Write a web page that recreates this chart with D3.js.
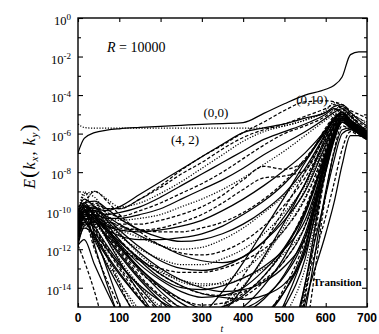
<!DOCTYPE html>
<html>
<head>
<meta charset="utf-8">
<script src="https://cdn.jsdelivr.net/npm/d3@7"></script>
<style>
  body { margin: 0; background: #fff; }
  text { fill: #000; }
</style>
</head>
<body>
<svg id="chart"></svg>
<script>
// sample times shared by every curve
const times = [0, 15, 40, 70, 100, 150, 200, 250, 300, 350, 400, 450, 500, 550, 600, 620, 640, 660, 680, 700];

// log10 E(kx,ky)
const mode00 = [-7.0,-6.25,-5.95,-5.82,-5.75,-5.68,-5.62,-5.57,-5.52,-5.48,-5.43,-4.95,-4.45,-4.0,-3.7,-3.5,-3.05,-1.9,-1.76,-1.76];
const mode42 = [-5.5,-5.68,-5.72,-5.72,-5.72,-5.72,-5.72,-5.72,-5.72,-5.72,-5.72,-5.72,-5.6,-5.3,-4.9,-4.75,-4.6,-4.9,-5.2,-5.4];
const mode010 = [-10.6,-10.0,-9.7,-9.9,-9.9,-9.4,-8.7,-7.9,-7.2,-6.6,-5.95,-5.4,-4.8,-4.35,-4.3,-4.35,-4.5,-4.8,-5.0,-5.2];

// curves that climb straight towards the transition
const risingLines = [
  [-10.4,-9.8,-9.9,-10.0,-9.8,-9.15,-8.5,-7.85,-7.2,-6.55,-5.95,-5.7,-5.5,-5.2,-4.9,-4.6,-4.5,-4.9,-5.3,-5.6],
  [-10.6,-10.0,-9.6,-9.9,-9.9,-9.4,-8.8,-8.1,-7.5,-6.8,-6.2,-5.8,-5.5,-5.1,-4.7,-4.5,-4.7,-5.1,-5.4,-5.7],
  [-10.2,-9.2,-9.0,-9.4,-9.8,-9.6,-9.1,-8.5,-7.8,-7.1,-6.4,-5.9,-5.6,-5.3,-4.8,-4.4,-4.6,-5.0,-5.2,-5.5],
  [-10.8,-10.1,-10.0,-10.2,-10.1,-9.8,-9.3,-8.7,-8.1,-7.5,-6.9,-6.3,-5.9,-5.5,-5.0,-4.7,-4.9,-5.3,-5.6,-5.9],
  [-11.0,-10.3,-9.8,-10.1,-10.3,-10.0,-9.6,-9.1,-8.6,-8.0,-7.3,-6.6,-6.0,-5.6,-5.1,-4.8,-4.6,-5.0,-5.5,-5.8],
  [-10.9,-10.2,-10.2,-10.4,-10.4,-10.2,-9.9,-9.4,-8.9,-8.4,-7.8,-7.1,-6.5,-5.9,-5.2,-4.9,-4.7,-5.1,-5.5,-5.9],
  [-11.2,-10.4,-10.1,-10.3,-10.5,-10.4,-10.2,-9.8,-9.4,-8.9,-8.3,-7.6,-6.9,-6.1,-5.3,-5.0,-4.8,-5.2,-5.6,-5.8],
  [-11.0,-10.3,-10.4,-10.6,-10.7,-10.7,-10.5,-10.2,-9.8,-9.2,-8.4,-7.7,-7.85,-7.4,-5.7,-5.1,-4.9,-5.3,-5.7,-6.0],
  [-11.3,-10.5,-10.3,-10.7,-10.9,-11.0,-10.9,-10.6,-10.2,-9.6,-8.9,-8.3,-8.2,-7.9,-6.0,-5.2,-5.0,-5.4,-5.8,-6.0],
  [-11.1,-10.4,-10.5,-10.8,-11.0,-11.1,-11.0,-10.8,-10.5,-10.0,-9.4,-8.7,-7.9,-7.0,-5.8,-5.2,-4.9,-5.3,-5.7,-6.1],
  [-10.7,-10.0,-10.1,-10.5,-10.8,-11.0,-11.1,-11.1,-10.9,-10.6,-10.1,-9.4,-8.5,-7.3,-5.9,-5.3,-5.0,-5.4,-5.8,-6.0],
  [-11.4,-10.6,-10.6,-11.0,-11.3,-11.5,-11.5,-11.4,-11.2,-10.8,-10.2,-9.5,-8.6,-7.4,-5.8,-5.2,-4.9,-5.3,-5.7,-6.0]
];
const risingStyles = 'sdosdsoddsds';

// curves that sag to a minimum first
const dippingLines = [
  [-10.2,-9.6,-9.5,-9.9,-10.4,-11.0,-11.4,-11.6,-11.5,-11.2,-10.7,-10.0,-9.1,-7.8,-6.0,-5.3,-4.9,-5.3,-5.7,-6.0],
  [-10.4,-9.7,-9.0,-9.5,-10.2,-11.1,-11.8,-12.2,-12.3,-12.1,-11.6,-10.8,-9.7,-8.3,-6.3,-5.5,-5.0,-5.4,-5.8,-6.1],
  [-10.6,-10.0,-9.8,-10.4,-11.0,-11.9,-12.6,-13.0,-13.1,-12.9,-12.4,-11.6,-10.5,-9.0,-6.6,-5.6,-5.1,-5.5,-5.8,-6.0],
  [-10.8,-9.1,-9.3,-10.2,-11.1,-12.3,-13.1,-13.7,-13.9,-13.7,-13.1,-12.2,-11.0,-9.3,-6.8,-5.7,-5.2,-5.6,-5.9,-6.1],
  [-11.0,-10.3,-10.2,-10.9,-11.7,-12.8,-13.6,-14.2,-14.5,-14.4,-14.0,-13.1,-11.9,-10.0,-7.1,-5.9,-5.3,-5.6,-5.9,-6.2],
  [-11.3,-10.5,-10.4,-11.2,-12.0,-13.2,-14.0,-14.6,-14.9,-14.8,-14.3,-13.4,-12.0,-9.9,-6.9,-5.8,-5.2,-5.5,-5.8,-6.0],
  [-10.7,-10.0,-10.0,-10.3,-10.7,-11.3,-11.8,-12.3,-12.6,-12.7,-12.4,-11.6,-10.3,-8.6,-6.2,-5.4,-4.9,-5.3,-5.7,-5.9],
  [-11.5,-10.6,-10.5,-10.8,-11.0,-11.4,-11.8,-12.0,-11.9,-11.5,-10.9,-10.1,-9.2,-8.0,-6.1,-5.4,-5.0,-5.3,-5.6,-5.9],
  [-11.8,-10.8,-10.6,-11.4,-12.2,-13.5,-14.5,-15.3,-15.7,-15.6,-15.0,-13.9,-12.4,-10.2,-7.2,-6.0,-5.3,-5.6,-5.9,-6.2],
  [-10.5,-9.9,-10.1,-10.8,-11.5,-12.5,-13.3,-13.9,-14.3,-14.4,-14.2,-13.6,-12.6,-10.8,-7.4,-6.1,-5.4,-5.7,-6.0,-6.2],
  [-10.9,-10.2,-10.3,-11.0,-11.8,-13.0,-13.9,-14.6,-15.1,-15.3,-15.1,-14.5,-13.4,-11.4,-7.6,-6.2,-5.4,-5.7,-6.0,-6.3],
  [-11.1,-10.4,-10.0,-10.6,-11.3,-12.0,-12.5,-12.8,-12.8,-12.5,-12.0,-11.2,-10.1,-8.7,-6.5,-5.6,-5.1,-5.4,-5.7,-6.0],
  [-10.3,-9.8,-10.0,-10.7,-11.5,-12.6,-13.5,-14.0,-14.1,-13.9,-13.5,-12.9,-12.0,-10.5,-7.3,-5.9,-5.2,-5.5,-5.9,-6.1],
  [-11.6,-10.7,-10.7,-11.3,-11.9,-12.6,-13.0,-13.2,-13.2,-13.0,-12.6,-12.0,-11.0,-9.4,-6.8,-5.7,-5.1,-5.5,-5.8,-6.1]
];
const dippingStyles = 'sdsosdsosdsosd';

// curves that touch the floor of the frame in mid-run
const floorLines = [
  [-10.5,-10.0,-10.8,-11.8,-12.7,-14.0,-15.2,-16.0,-16.0,-15.3,-14.0,-12.4,-10.6,-8.6,-6.4,-5.6,-5.0,-5.4,-5.8,-6.0],
  [-10.9,-10.3,-11.0,-12.0,-13.0,-14.5,-15.7,-16.5,-16.2,-15.0,-13.4,-11.7,-9.9,-8.0,-6.1,-5.5,-5.0,-5.3,-5.7,-6.0],
  [-11.2,-10.6,-11.3,-12.3,-13.2,-14.6,-15.6,-16.0,-15.4,-14.2,-12.7,-11.0,-9.3,-7.5,-5.9,-5.3,-4.9,-5.3,-5.6,-5.9],
  [-10.6,-10.1,-10.6,-11.5,-12.5,-13.9,-15.0,-15.6,-15.6,-15.0,-13.9,-12.5,-10.8,-8.9,-6.6,-5.7,-5.1,-5.4,-5.8,-6.1],
  [-11.6,-10.9,-11.2,-12.0,-12.8,-13.9,-14.7,-15.2,-15.3,-15.0,-14.4,-13.4,-12.0,-10.1,-7.0,-5.9,-5.2,-5.5,-5.9,-6.2],
  [-10.1,-9.7,-10.2,-11.0,-11.8,-13.0,-14.0,-14.8,-15.3,-15.5,-15.3,-14.6,-13.3,-11.2,-7.5,-6.1,-5.3,-5.6,-5.9,-6.2],
  [-11.0,-10.4,-10.6,-11.3,-12.1,-13.4,-14.4,-15.0,-15.2,-15.0,-14.5,-13.7,-12.6,-10.8,-7.3,-6.0,-5.2,-5.6,-5.9,-6.2],
  [-10.7,-10.1,-10.4,-11.0,-11.6,-12.5,-13.3,-13.9,-14.3,-14.5,-14.6,-14.4,-13.8,-12.2,-8.0,-6.4,-5.4,-5.7,-6.0,-6.3],
  [-11.4,-10.7,-10.8,-11.3,-11.8,-12.6,-13.2,-13.6,-13.8,-13.8,-13.5,-13.0,-12.2,-10.8,-7.6,-6.2,-5.3,-5.6,-5.9,-6.1],
  [-10.0,-9.4,-9.8,-10.5,-11.2,-12.2,-13.0,-13.6,-14.0,-14.2,-14.1,-13.7,-12.9,-11.4,-7.9,-6.3,-5.4,-5.7,-6.0,-6.3]
];
const floorStyles = 'sdsossdsos';

// curves that drop out of the frame and come back at transition
const fallingLines = [
  [-10.0,-9.7,-11.2,-13.0,-14.8,-17.5,-20,-20,-20,-20,-20,-20,-19,-15.2,-9.0,-7.0,-5.8,-5.7,-6.0,-6.2],
  [-10.3,-9.9,-11.8,-13.8,-15.6,-18,-20,-20,-20,-20,-20,-20,-20,-14.8,-11.2,-9.6,-7.6,-6.1,-6.1,-6.3],
  [-10.5,-10.0,-11.0,-12.4,-13.8,-16.0,-18,-20,-20,-20,-20,-20,-18.5,-14.5,-8.0,-6.3,-5.4,-5.6,-5.9,-6.1],
  [-11.0,-10.4,-11.5,-12.8,-14.0,-15.8,-17.5,-19,-20,-20,-20,-19.5,-17.5,-13.8,-7.8,-6.2,-5.3,-5.6,-5.9,-6.2],
  [-10.2,-9.0,-10.6,-12.2,-13.6,-15.5,-17,-18.5,-20,-20,-20,-20,-18,-14.0,-7.6,-6.0,-5.2,-5.5,-5.8,-6.0],
  [-11.3,-10.6,-11.4,-12.4,-13.3,-14.6,-15.8,-17,-18,-18.5,-18,-16.8,-14.8,-12.0,-7.3,-6.0,-5.2,-5.5,-5.8,-6.1],
  [-10.8,-10.2,-10.9,-11.9,-12.9,-14.2,-15.3,-16.2,-16.8,-17,-16.6,-15.6,-14.0,-11.5,-7.1,-5.9,-5.1,-5.5,-5.9,-6.1],
  [-10.6,-10.0,-10.5,-11.4,-12.3,-13.6,-14.7,-15.6,-16.3,-16.6,-16.4,-15.6,-14.2,-11.8,-7.4,-6.0,-5.2,-5.6,-5.9,-6.2],
  [-11.8,-11.5,-12.8,-14.2,-15.5,-17.5,-19,-20,-20,-20,-20,-20,-19,-13.8,-9.2,-7.4,-6.0,-5.8,-6.0,-6.3],
  [-11.8,-12.6,-14.2,-16.5,-18,-20,-20,-20,-20,-20,-20,-20,-20,-14.2,-10.3,-8.6,-6.8,-5.9,-6.1,-6.3],
  [-9.8,-9.6,-10.3,-11.5,-12.6,-14.3,-15.8,-17.2,-18,-18,-17.5,-16.5,-15.0,-12.5,-7.5,-6.1,-5.3,-5.6,-5.9,-6.1],
  [-11.5,-10.8,-11.6,-12.7,-13.7,-15.2,-16.6,-17.8,-18.5,-18.5,-18,-17,-15.5,-13.0,-7.8,-6.2,-5.3,-5.6,-5.9,-6.1],
  [-10.4,-9.8,-10.3,-11.1,-11.9,-13.1,-14.2,-15.1,-15.8,-16.1,-16.0,-15.4,-14.2,-12.0,-7.4,-6.0,-5.2,-5.6,-5.9,-6.2],
  [-11.0,-10.5,-12.0,-13.6,-15.0,-17.2,-19,-20,-20,-20,-20,-20,-19.5,-16.5,-9.2,-6.9,-5.6,-5.8,-6.0,-6.2]
];
const fallingStyles = 'ssdsosdssdsosd';

const xTicks = [0, 100, 200, 300, 400, 500, 600, 700];
const yMajor = [0, -2, -4, -6, -8, -10, -12, -14];
const yMinor = [-1, -3, -5, -7, -9, -11, -13];

const width = 379, height = 334;
const plotLeft = 78, plotRight = 367, plotTop = 18, plotBottom = 307;

const svg = d3.select('#chart').attr('width', width).attr('height', height);

const x = d3.scaleLinear().domain([0, 700]).range([plotLeft, plotRight]);
const y = d3.scaleLog().domain([1e-15, 1]).range([plotBottom, plotTop]);

const dashes = { s: null, d: '3.5,2', o: '1.2,1.6' };

svg.append('clipPath').attr('id', 'plot')
  .append('rect')
  .attr('x', plotLeft).attr('y', plotTop)
  .attr('width', plotRight - plotLeft).attr('height', plotBottom - plotTop);

const line = d3.line()
  .x((d, i) => x(times[i]))
  .y(d => y(Math.pow(10, d)))
  .curve(d3.curveMonotoneX);

const curves = [].concat(
  fallingLines.map((v, i) => ({ v, s: fallingStyles[i] })),
  floorLines.map((v, i) => ({ v, s: floorStyles[i] })),
  dippingLines.map((v, i) => ({ v, s: dippingStyles[i] })),
  risingLines.map((v, i) => ({ v, s: risingStyles[i] })),
  [{ v: mode010, s: 'd' }, { v: mode42, s: 'o' }, { v: mode00, s: 's' }]
);

svg.append('g')
  .attr('clip-path', 'url(#plot)')
  .selectAll('path')
  .data(curves)
  .enter()
  .append('path')
  .attr('d', d => line(d.v))
  .style('fill', 'none')
  .style('stroke', '#000')
  .style('stroke-width', 1.25)
  .style('stroke-dasharray', d => dashes[d.s]);

// axes, ticks inside on all four sides
svg.append('g')
  .attr('transform', `translate(0, ${plotBottom})`)
  .call(d3.axisBottom(x).tickValues(xTicks).tickSizeInner(-4).tickSizeOuter(0).tickFormat(''));
svg.append('g')
  .attr('transform', `translate(0, ${plotTop})`)
  .call(d3.axisTop(x).tickValues(xTicks).tickSizeInner(-4).tickSizeOuter(0).tickFormat(''));
svg.append('g')
  .attr('transform', `translate(${plotLeft}, 0)`)
  .call(d3.axisLeft(y).tickValues(yMajor.map(p => Math.pow(10, p))).tickSizeInner(-5).tickSizeOuter(0).tickFormat(''));
svg.append('g')
  .attr('transform', `translate(${plotLeft}, 0)`)
  .call(d3.axisLeft(y).tickValues(yMinor.map(p => Math.pow(10, p))).tickSizeInner(-3).tickSizeOuter(0).tickFormat(''));
svg.append('g')
  .attr('transform', `translate(${plotRight}, 0)`)
  .call(d3.axisRight(y).tickValues(yMajor.map(p => Math.pow(10, p))).tickSizeInner(-5).tickSizeOuter(0).tickFormat(''));
svg.append('g')
  .attr('transform', `translate(${plotRight}, 0)`)
  .call(d3.axisRight(y).tickValues(yMinor.map(p => Math.pow(10, p))).tickSizeInner(-3).tickSizeOuter(0).tickFormat(''));
svg.selectAll('.domain').remove();
svg.selectAll('.tick line').style('stroke', '#000').style('stroke-width', 1.1);

svg.append('rect')
  .attr('x', plotLeft).attr('y', plotTop)
  .attr('width', plotRight - plotLeft).attr('height', plotBottom - plotTop)
  .style('fill', 'none').style('stroke', '#000').style('stroke-width', 1.4);

// tick labels
svg.append('g').selectAll('text')
  .data(xTicks)
  .enter()
  .append('text')
  .attr('x', d => x(d))
  .attr('y', 322)
  .attr('text-anchor', 'middle')
  .style('font-family', 'Liberation Sans, Arial, sans-serif')
  .style('font-weight', 'bold')
  .style('font-size', '12px')
  .text(d => d);

const serif = 'Liberation Serif, Times New Roman, serif';

const yLabels = svg.append('g').selectAll('text')
  .data(yMajor)
  .enter()
  .append('text')
  .attr('x', 71)
  .attr('y', d => y(Math.pow(10, d)) + 7)
  .attr('text-anchor', 'end')
  .style('font-family', serif)
  .style('font-size', '12.5px');
yLabels.append('tspan').text('10');
yLabels.append('tspan').attr('dy', -5).style('font-size', '9px').text(d => d === 0 ? '0' : '-' + (-d));

// axis titles
const yTitle = svg.append('text')
  .attr('transform', 'translate(35, 156) rotate(-90)')
  .attr('text-anchor', 'middle')
  .style('font-family', serif)
  .style('font-size', '16px')
  .style('letter-spacing', '1px');
yTitle.append('tspan').style('font-style', 'italic').text('E');
yTitle.append('tspan').style('font-size', '22px').text('(');
yTitle.append('tspan').style('font-style', 'italic').text('k');
yTitle.append('tspan').style('font-style', 'italic').style('font-size', '11px').attr('dy', 3).text('x');
yTitle.append('tspan').attr('dy', -3).text(', ');
yTitle.append('tspan').style('font-style', 'italic').text('k');
yTitle.append('tspan').style('font-style', 'italic').style('font-size', '11px').attr('dy', 3).text('y');
yTitle.append('tspan').style('font-size', '22px').attr('dy', -3).text(')');

svg.append('text')
  .attr('x', 222).attr('y', 332)
  .attr('text-anchor', 'middle')
  .style('font-family', serif)
  .style('font-style', 'italic')
  .style('font-size', '10px')
  .text('t');

// annotations
const rText = svg.append('text')
  .attr('x', 107).attr('y', 52)
  .style('font-family', serif)
  .style('font-size', '14px');
rText.append('tspan').style('font-style', 'italic').text('R');
rText.append('tspan').text(' = 10000');

[['(0,0)', 216, 117], ['(4, 2)', 185, 144], ['(0,10)', 312, 104]].forEach(([label, lx, ly]) => {
  svg.append('text')
    .attr('x', lx).attr('y', ly)
    .attr('text-anchor', 'middle')
    .style('font-family', serif)
    .style('font-size', '13px')
    .text(label);
});

svg.append('text')
  .attr('x', 313).attr('y', 286)
  .style('font-family', serif)
  .style('font-weight', 'bold')
  .style('font-size', '11px')
  .text('Transition');
</script>
</body>
</html>
